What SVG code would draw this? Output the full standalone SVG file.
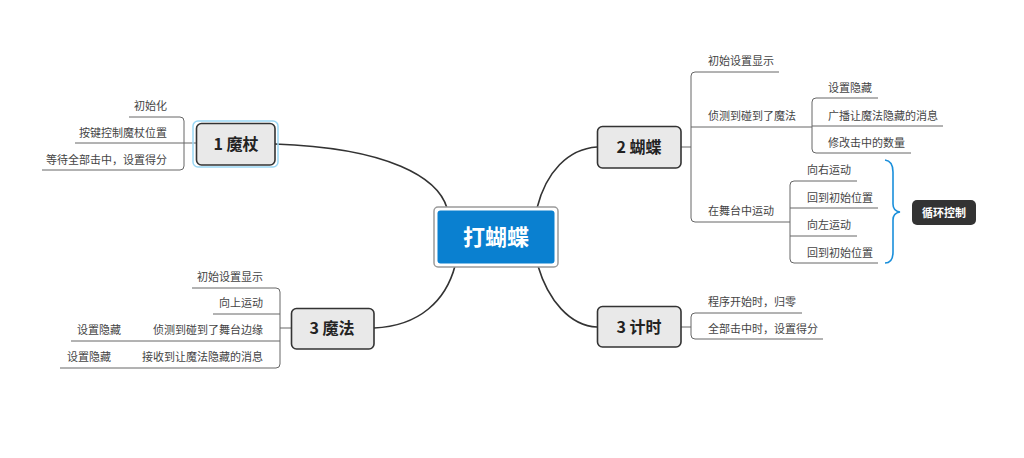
<svg xmlns="http://www.w3.org/2000/svg" width="1024" height="458" viewBox="0 0 1024 458">
<style>
.leaf{font-family:"Noto Sans CJK SC","Noto Sans",sans-serif;font-size:11px;fill:#444}
.ul{stroke:#666;stroke-width:1;fill:none}
.con{stroke:#666;stroke-width:1;fill:none}
.main{fill:#e9e9e9;stroke:#333;stroke-width:1.6}
.mt{font-family:"Noto Sans CJK SC","Noto Sans",sans-serif;font-size:16px;font-weight:bold;fill:#222;text-anchor:middle}
.trunk{stroke:#333;stroke-width:1.6;fill:none}
.end{text-anchor:end}
</style>
<rect width="1024" height="458" fill="#fff"/>
<g id="connectors">
<path class="trunk" d="M275,144 C390,148 438,178 447,208"/>
<path class="trunk" d="M537,208 C546,172 568,149 597,147"/>
<path class="trunk" d="M455,266 C446,300 420,326 374,328"/>
<path class="trunk" d="M538,266 C548,300 570,326 597,327"/>
<path class="con" d="M196,143 H184 M180,117 Q184,117 184,121 V166 Q184,170 180,170"/>
<path class="con" d="M681,147 H691 M695,72 Q691,72 691,76 V218 Q691,222 695,222"/>
<path class="con" d="M812,126 H812 M816,98 Q812,98 812,102 V149 Q812,153 816,153"/>
<path class="con" d="M794,181 Q790,181 790,185 V259 Q790,263 794,263"/>
<path class="con" d="M291,328 H280 M276,288 Q280,288 280,292 V364 Q280,368 276,368"/>
<path class="con" d="M681,327 H691 M695,313 Q691,313 691,317 V335 Q691,339 695,339"/>
<path d="M885,160 Q893,161 893,172 V204 Q893,211 900,212 Q893,213 893,220 V252 Q893,263 885,263" fill="none" stroke="#1a8fdb" stroke-width="1.6"/>
</g>
<g id="center">
<rect x="434" y="207" width="124" height="60" rx="4" fill="#fff" stroke="#9a9a9a" stroke-width="1.5"/>
<rect x="437.5" y="210.5" width="117" height="53" rx="3" fill="#0a80d0"/>
<text x="496" y="245" font-family="'Noto Sans CJK SC',sans-serif" font-size="22" font-weight="bold" fill="#fff" text-anchor="middle">打蝴蝶</text>
</g>
<g id="node-mozhang">
<rect x="193" y="121" width="85" height="46" rx="5" fill="none" stroke="#9ad7f5" stroke-width="1.5"/>
<rect class="main" x="196.5" y="123.5" width="78.5" height="41.5" rx="5"/>
<text class="mt" x="236" y="150">1 魔杖</text>
</g>
<g id="leaf-1a"><path class="ul" d="M129,117 H180"/><text class="leaf end" x="167" y="110">初始化</text></g>
<g id="leaf-1b"><path class="ul" d="M75,143 H184"/><text class="leaf end" x="167" y="137">按键控制魔杖位置</text></g>
<g id="leaf-1c"><path class="ul" d="M42,170 H180"/><text class="leaf end" x="167" y="164">等待全部击中，设置得分</text></g>
<g id="node-hudie">
<rect class="main" x="597.5" y="126.5" width="83.5" height="41.5" rx="5"/>
<text class="mt" x="639" y="153">2 蝴蝶</text>
</g>
<g id="leaf-2a"><path class="ul" d="M695,72 H779"/><text class="leaf" x="708" y="65">初始设置显示</text></g>
<g id="leaf-2b"><path class="ul" d="M691,127 H812"/><text class="leaf" x="708" y="120">侦测到碰到了魔法</text></g>
<g id="leaf-2b1"><path class="ul" d="M816,98 H878"/><text class="leaf" x="828" y="92">设置隐藏</text></g>
<g id="leaf-2b2"><path class="ul" d="M812,126 H943"/><text class="leaf" x="828" y="120">广播让魔法隐藏的消息</text></g>
<g id="leaf-2b3"><path class="ul" d="M816,153 H911"/><text class="leaf" x="828" y="147">修改击中的数量</text></g>
<g id="leaf-2c"><path class="ul" d="M695,222 H790"/><text class="leaf" x="708" y="215">在舞台中运动</text></g>
<g id="leaf-2c1"><path class="ul" d="M794,181 H857"/><text class="leaf" x="807" y="174">向右运动</text></g>
<g id="leaf-2c2"><path class="ul" d="M790,208 H878"/><text class="leaf" x="807" y="202">回到初始位置</text></g>
<g id="leaf-2c3"><path class="ul" d="M790,236 H857"/><text class="leaf" x="807" y="229">向左运动</text></g>
<g id="leaf-2c4"><path class="ul" d="M794,263 H878"/><text class="leaf" x="807" y="257">回到初始位置</text></g>
<g id="node-loop">
<rect x="912" y="200" width="64" height="25" rx="5" fill="#333"/>
<text x="944" y="216.5" font-family="'Noto Sans CJK SC',sans-serif" font-size="11" font-weight="bold" fill="#fff" text-anchor="middle">循环控制</text>
</g>
<g id="node-mofa">
<rect class="main" x="291.5" y="308.5" width="82.5" height="40.5" rx="5"/>
<text class="mt" x="332" y="334">3 魔法</text>
</g>
<g id="leaf-3a"><path class="ul" d="M192,288 H276"/><text class="leaf end" x="263" y="281">初始设置显示</text></g>
<g id="leaf-3b"><path class="ul" d="M213,314 H280"/><text class="leaf end" x="263" y="307">向上运动</text></g>
<g id="leaf-3c"><path class="ul" d="M71,341 H280"/><text class="leaf end" x="263" y="334">侦测到碰到了舞台边缘</text><text class="leaf" x="77" y="334">设置隐藏</text></g>
<g id="leaf-3d"><path class="ul" d="M60,368 H276"/><text class="leaf end" x="263" y="361">接收到让魔法隐藏的消息</text><text class="leaf" x="67" y="361">设置隐藏</text></g>
<g id="node-jishi">
<rect class="main" x="597.5" y="306.5" width="83.5" height="40.5" rx="5"/>
<text class="mt" x="639" y="333">3 计时</text>
</g>
<g id="leaf-4a"><path class="ul" d="M695,313 H802"/><text class="leaf" x="708" y="306">程序开始时，归零</text></g>
<g id="leaf-4b"><path class="ul" d="M695,339 H823"/><text class="leaf" x="708" y="333">全部击中时，设置得分</text></g>
</svg>
